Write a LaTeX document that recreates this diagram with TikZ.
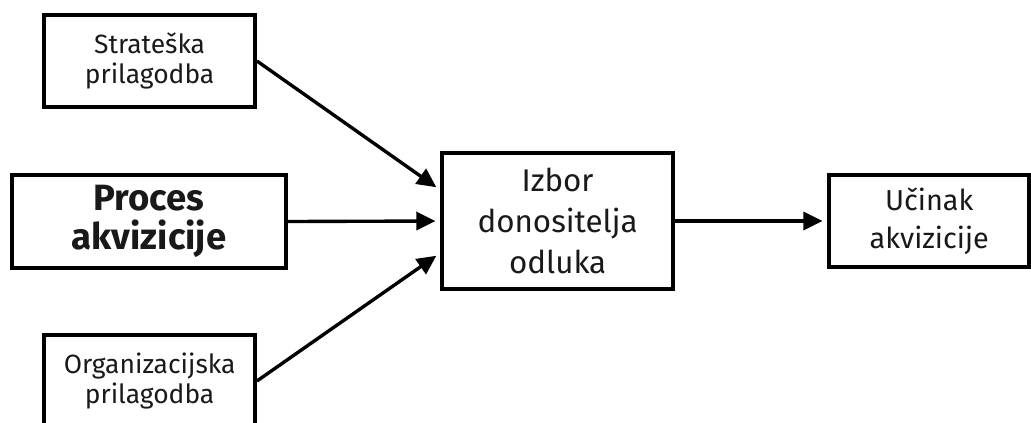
\documentclass[tikz,border=0pt]{standalone}
\usepackage{fontspec}
\setmainfont{Fira Sans}
\usetikzlibrary{arrows.meta}
\tikzset{
    box/.style={draw, line width=2.6pt, align=center, inner sep=0pt, text=black!90},
    small/.style={font=\fontsize{18.8}{21.5}\selectfont},
    big/.style={font=\fontsize{22.3}{29}\selectfont},
    arr/.style={line width=2.4pt, -{Triangle[length=0.48cm, width=0.45cm]}, shorten >=0.12cm}
}
\begin{document}
\begin{tikzpicture}
    \clip (0, 0) rectangle (25.775, 10.55);
    \node [box, small, minimum width=5.275cm, minimum height=2.3cm] (strat) at (3.74, 9.025) {Strateška\\prilagodba};
    \node [box, font=\fontsize{26}{27.5}\selectfont\bfseries, minimum width=6.85cm, minimum height=2.325cm] (proc) at (3.725, 5.0125) {Proces\\akvizicije};
    \node [box, small, minimum width=5.275cm, minimum height=2.3cm] (org) at (3.74, 1.025) {Organizacijska\\prilagodba};
    \node [box, big, minimum width=5.775cm, minimum height=3.4cm] (izbor) at (13.94, 5.025) {Izbor\\donositelja\\odluka};
    \node [box, font=\fontsize{20.5}{27}\selectfont, minimum width=5cm, minimum height=2.3cm] (ucin) at (23.23, 5.025) {Učinak\\akvizicije};
    \draw [arr] (strat.east) -- ([yshift=0.775cm]izbor.west);
    \draw [arr] (proc.east) -- (izbor.west);
    \draw [arr] (org.east) -- ([yshift=-0.8cm]izbor.west);
    \draw [arr] (izbor.east) -- (ucin.west);
\end{tikzpicture}
\end{document}
